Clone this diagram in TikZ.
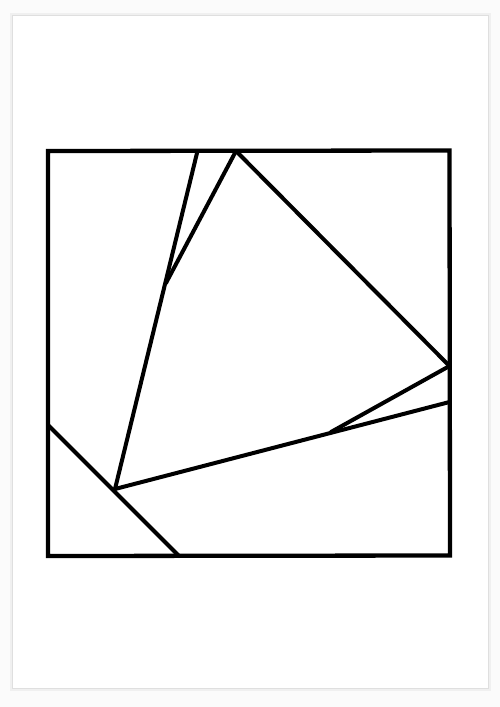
\documentclass[tikz,border=0pt]{standalone}
\begin{document}
\begin{tikzpicture}[x=1pt,y=-1pt,
  edge/.style={draw=black,line width=4pt,line cap=round,line join=round},
  frame/.style={draw=black,line width=4.3pt,line join=miter}]
\useasboundingbox (0,0) rectangle (500,707);
\fill[gray!3] (0,0) rectangle (500,707);
% page shadow
\fill[gray!22] (11,14) rectangle (490,690);
\fill[gray!12] (10,13) rectangle (491,691);
\fill[gray!25] (12,15) rectangle (489,689);
\fill[white] (13,16) rectangle (488,688);
% points
\coordinate (TL) at (48,151);
\coordinate (TR) at (449.5,150.5);
\coordinate (BR) at (450,555.5);
\coordinate (BL) at (48,556);
\coordinate (A) at (197.5,151);
\coordinate (B) at (236,151);
\coordinate (C) at (449.5,366);
\coordinate (D) at (449.5,402);
\coordinate (E) at (48,425);
\coordinate (F) at (179,556);
\coordinate (G) at (115,489);
\coordinate (H) at (166,283);
\coordinate (I) at (331,432);
% frame
\draw[frame] (TL) -- (TR) -- (BR) -- (BL) -- cycle;
% inner lines
\draw[edge] (A) -- (G);
\draw[edge] (B) -- (H);
\draw[edge] (B) -- (C);
\draw[edge] (C) -- (I);
\draw[edge] (G) -- (D);
\draw[edge] (E) -- (F);
\end{tikzpicture}
\end{document}
